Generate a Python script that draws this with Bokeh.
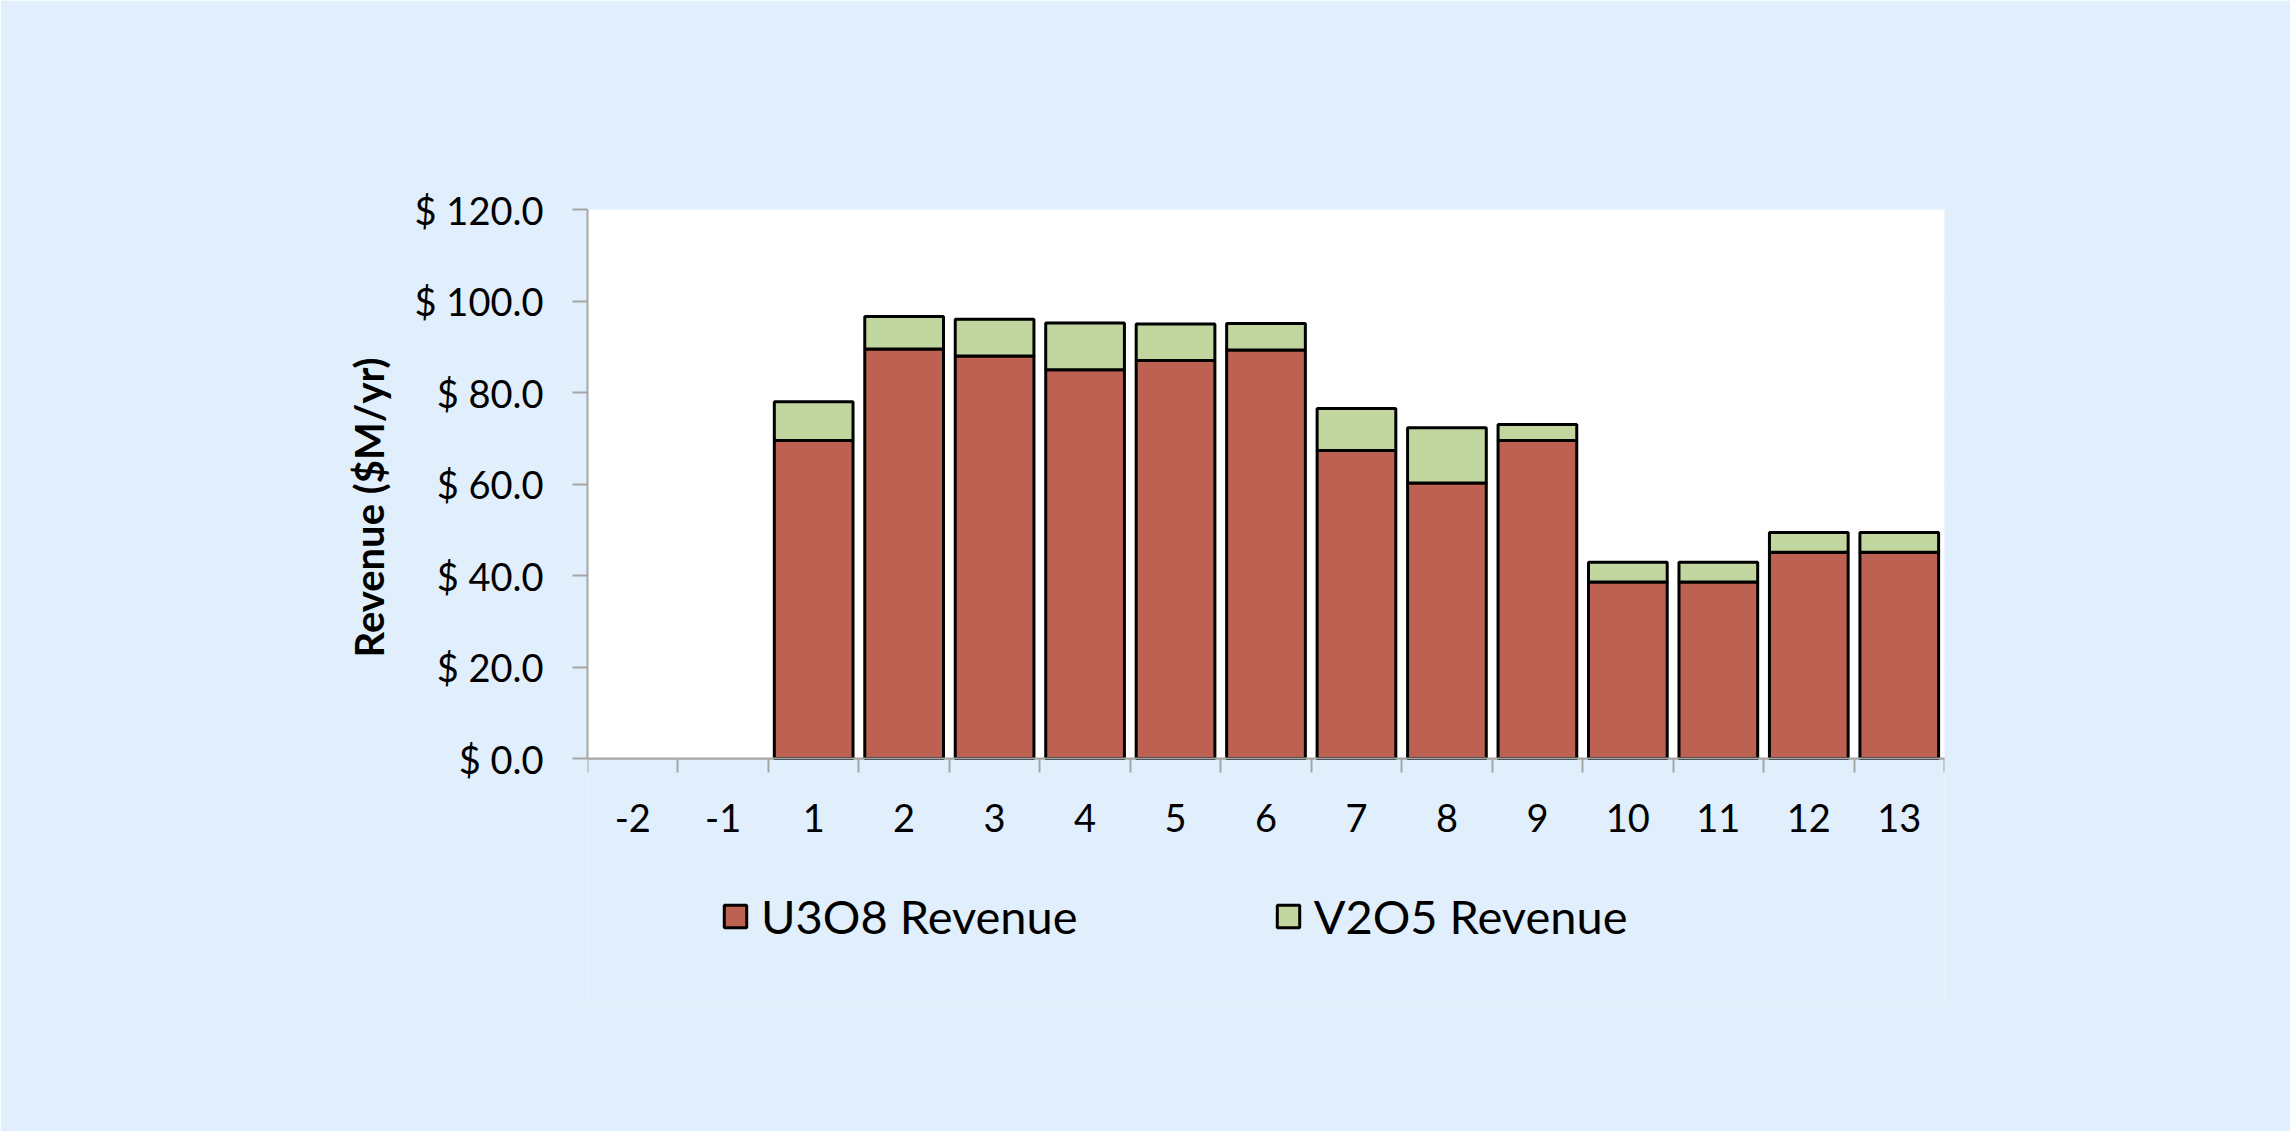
from bokeh.plotting import figure
from bokeh.models import (Range1d, FixedTicker, Legend, LegendItem, ColumnDataSource,
                          BoxAnnotation, Title)
from bokeh.embed import file_html
from bokeh.resources import INLINE

years = ["-2", "-1", "1", "2", "3", "4", "5", "6", "7", "8", "9", "10", "11", "12", "13"]
u3o8 = [0, 0, 69.5, 89.5, 88.0, 85.0, 87.0, 89.3, 67.3, 60.2, 69.5, 38.6, 38.6, 45.1, 45.1]
v2o5 = [0, 0, 8.5, 7.1, 8.0, 10.2, 8.0, 5.8, 9.2, 12.1, 3.5, 4.3, 4.3, 4.3, 4.3]
y_ticks = [0, 20, 40, 60, 80, 100, 120]
series = ["U3O8 Revenue", "V2O5 Revenue"]
y_title = "Revenue ($M/yr)"

BG = "#E1EEFC"
RED = "#BD6152"
GREEN = "#C2D69F"
GRID = "#A6A6A6"
FONT = "Lato"

# layout: plot area (0..120) is 549 px tall; the frame is extended below it
# so that the legend underneath can live inside the frame
PLOT_H = 549
FRAME_H = 791
y_lo = y_ticks[-1] - (y_ticks[-1] - y_ticks[0]) * FRAME_H / PLOT_H

xpos = [i + 0.5 for i in range(len(years))]
outline = ["black" if (a + b) > 0 else None for a, b in zip(u3o8, v2o5)]
src = ColumnDataSource(dict(x=xpos, u=u3o8, v=v2o5, year=years, lc=outline))

p = figure(frame_width=1357, frame_height=FRAME_H, output_backend="svg", toolbar_location=None,
           x_range=Range1d(0, len(years)), y_range=Range1d(y_lo, y_ticks[-1]))
p.min_border_left = 587
p.min_border_right = 346
p.min_border_top = 209
p.min_border_bottom = 1131 - 209 - FRAME_H
p.background_fill_color = BG
p.border_fill_color = BG
p.outline_line_color = None

p.add_layout(BoxAnnotation(bottom=y_ticks[0], top=y_ticks[-1], fill_color="white",
                           fill_alpha=1, line_color=None, level="underlay"))

r = p.vbar_stack(["u", "v"], x="x", width=0.87, source=src,
                 fill_color=[RED, GREEN], line_color="lc", line_width=3)

# x axis: labels at category centres, tick marks at category boundaries
xa = p.xaxis[0]
xa.fixed_location = y_ticks[0]
xa.ticker = FixedTicker(ticks=xpos, minor_ticks=list(range(len(years) + 1)))
xa.major_label_overrides = {x: y for x, y in zip(xpos, years)}
xa.major_tick_out = 0
xa.major_tick_in = 0
xa.minor_tick_out = 14
xa.minor_tick_in = 0
xa.minor_tick_line_color = GRID
xa.minor_tick_line_width = 2
xa.axis_line_color = GRID
xa.axis_line_width = 2
xa.major_label_standoff = 31
xa.major_label_text_font = FONT
xa.major_label_text_font_size = "38px"
xa.major_label_text_color = "black"

ya = p.yaxis[0]
ya.bounds = (y_ticks[0], y_ticks[-1])
ya.ticker = FixedTicker(ticks=y_ticks)
ya.major_label_overrides = {t: "$ %.1f" % t for t in y_ticks}
ya.major_tick_out = 15
ya.major_tick_in = 0
ya.minor_tick_out = 0
ya.minor_tick_in = 0
ya.major_tick_line_color = GRID
ya.major_tick_line_width = 2
ya.axis_line_color = GRID
ya.axis_line_width = 2
ya.major_label_standoff = 29
ya.major_label_text_font = FONT
ya.major_label_text_font_size = "38px"
ya.major_label_text_color = "black"

p.add_layout(Title(text=y_title, align="left", offset=343, standoff=37,
                   text_font=FONT, text_font_style="bold", text_font_size="40px",
                   text_color="black"), "left")

p.xgrid.grid_line_color = None
p.ygrid.ticker = FixedTicker(ticks=y_ticks)
p.ygrid.grid_line_color = GRID
p.ygrid.grid_line_width = 2

legend = Legend(items=[LegendItem(label=series[0], renderers=[r[0]], index=2),
                       LegendItem(label=series[1], renderers=[r[1]], index=2)],
                orientation="horizontal", location=(134, 56))
legend.background_fill_alpha = 0
legend.border_line_color = None
legend.padding = 0
legend.margin = 0
legend.spacing = 196
legend.glyph_width = 28
legend.glyph_height = 28
legend.label_standoff = 12
legend.label_text_font = FONT
legend.label_text_font_size = "47px"
legend.label_text_color = "black"
p.add_layout(legend, "center")

open("out.html", "w").write(file_html(p, INLINE))
